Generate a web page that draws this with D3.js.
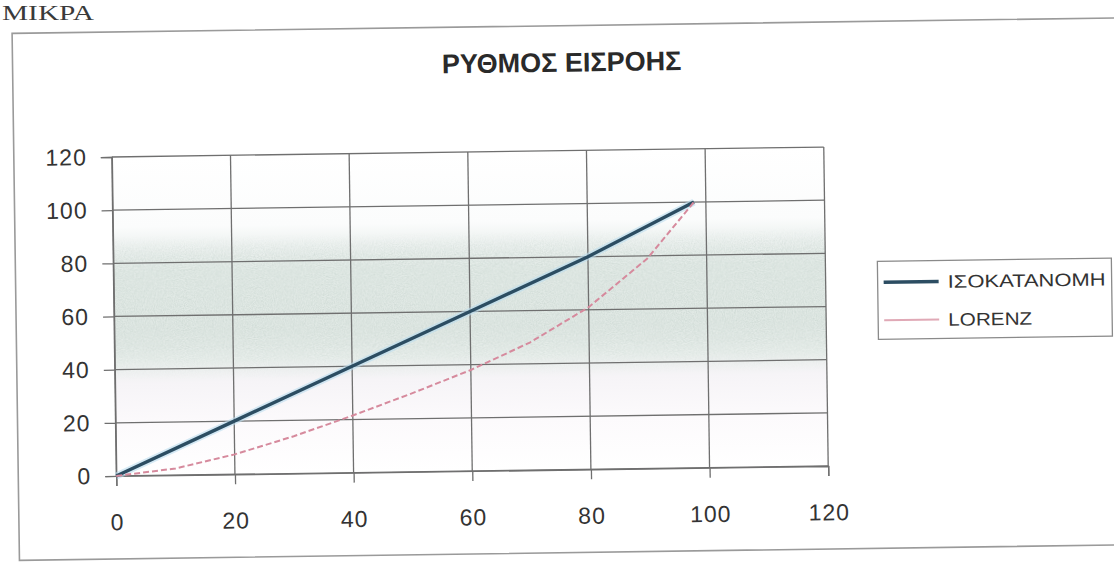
<!DOCTYPE html>
<html>
<head>
<meta charset="utf-8">
<script src="https://cdn.jsdelivr.net/npm/d3@7"></script>
<style>
  html, body { margin: 0; padding: 0; background: #fff; }
  svg { display: block; }
</style>
</head>
<body>
<svg id="chart" width="1114" height="562"></svg>
<script>
// Income flow: line of equal distribution vs. Lorenz curve
const pageHeading = "ΜΙΚΡΑ";
const chartTitle = "ΡΥΘΜΟΣ ΕΙΣΡΟΗΣ";
const seriesNames = ["ΙΣΟΚΑΤΑΝΟΜΗ", "LORENZ"];
const xTicks = [0, 20, 40, 60, 80, 100, 120];
const yTicks = [0, 20, 40, 60, 80, 100, 120];

// equal distribution
const equalX = [0, 20, 40, 60, 80, 98];
const equalY = [0, 20, 40, 60, 80, 100];

// Lorenz curve
const lorenzX = [0, 10, 20, 30, 40, 50, 60, 70, 80, 90, 98];
const lorenzY = [0, 2.5, 7.5, 14, 21.5, 29.5, 38, 48, 61, 79, 100];

const svg = d3.select("#chart");
const FONT = "'Liberation Sans', Arial, sans-serif";

svg.append("text")
  .attr("x", 2).attr("y", 20)
  .attr("font-family", "'Liberation Serif', 'Times New Roman', serif")
  .attr("font-size", 22)
  .attr("textLength", 92).attr("lengthAdjust", "spacingAndGlyphs")
  .attr("fill", "#3a3a3a")
  .text(pageHeading);

const defs = svg.append("defs");
const grad = defs.append("linearGradient")
  .attr("id", "plotBg").attr("x1", 0).attr("y1", 0).attr("x2", 0).attr("y2", 1);
[
  [0, "#ffffff"], [0.22, "#fbfcfc"], [0.29, "#ebf0ee"], [0.36, "#e2eae6"],
  [0.55, "#e0e8e4"], [0.64, "#e8eeeb"], [0.71, "#f6f4f7"], [0.84, "#fcfafc"], [1, "#ffffff"]
].forEach(([o, c]) => grad.append("stop").attr("offset", o).attr("stop-color", c));

// speckled texture for the shaded band
const speck = defs.append("filter").attr("id", "speck")
  .attr("x", 0).attr("y", 0).attr("width", "100%").attr("height", "100%");
speck.append("feTurbulence").attr("type", "fractalNoise")
  .attr("baseFrequency", 0.9).attr("numOctaves", 2).attr("seed", 4).attr("result", "n");
speck.append("feColorMatrix").attr("in", "n").attr("type", "matrix")
  .attr("values", "0 0 0 0 0.55  0 0 0 0 0.64  0 0 0 0 0.6  0 0 0 -2.2 1.45");
const maskGrad = defs.append("linearGradient")
  .attr("id", "bandMask").attr("x1", 0).attr("y1", 0).attr("x2", 0).attr("y2", 1);
[[0, 0], [0.25, 0], [0.32, 0.9], [0.6, 0.9], [0.7, 0], [1, 0]]
  .forEach(([o, a]) => maskGrad.append("stop").attr("offset", o)
    .attr("stop-color", "#fff").attr("stop-opacity", a));

// the whole chart sits slightly tilted on the page
const root = svg.append("g").attr("transform", "rotate(-0.8, 470, 310)");

root.append("rect")
  .attr("x", 16).attr("y", 27).attr("width", 1200).attr("height", 527)
  .attr("fill", "#fff").attr("stroke", "#9a9a9a").attr("stroke-width", 1.6);

root.append("text")
  .attr("x", 565).attr("y", 73)
  .attr("text-anchor", "middle")
  .attr("font-family", FONT).attr("font-weight", "bold")
  .attr("font-size", 27)
  .attr("fill", "#2a2a2a")
  .text(chartTitle);

const x = d3.scaleLinear().domain([0, 120]).range([114, 826]);
const y = d3.scaleLinear().domain([0, 120]).range([471, 152]);

const mask = defs.append("mask").attr("id", "bandM");
mask.append("rect")
  .attr("x", x(0)).attr("y", y(120)).attr("width", x(120) - x(0)).attr("height", y(0) - y(120))
  .attr("fill", "url(#bandMask)");

root.append("rect")
  .attr("x", x(0)).attr("y", y(120))
  .attr("width", x(120) - x(0)).attr("height", y(0) - y(120))
  .attr("fill", "url(#plotBg)");
root.append("rect")
  .attr("x", x(0)).attr("y", y(120))
  .attr("width", x(120) - x(0)).attr("height", y(0) - y(120))
  .attr("filter", "url(#speck)").attr("mask", "url(#bandM)")
  .attr("opacity", 0.6);

// grid
const grid = root.append("g").attr("stroke", "#6f6f6f").attr("stroke-width", 1.3);
grid.selectAll("line.h").data(yTicks).join("line")
  .attr("x1", x(0)).attr("x2", x(120))
  .attr("y1", d => y(d)).attr("y2", d => y(d));
grid.selectAll("line.v").data(xTicks).join("line")
  .attr("y1", y(0)).attr("y2", y(120))
  .attr("x1", d => x(d)).attr("x2", d => x(d));

// axes
const yAxis = root.append("g")
  .attr("transform", `translate(${x(0)},0)`)
  .call(d3.axisLeft(y).tickValues(yTicks).tickSize(11).tickPadding(14));
const xAxis = root.append("g")
  .attr("transform", `translate(0,${y(0)})`)
  .call(d3.axisBottom(x).tickValues(xTicks).tickSize(10).tickPadding(28));
[yAxis, xAxis].forEach(ax => {
  ax.select(".domain").attr("stroke", "#6f6f6f").attr("stroke-width", 1.3);
  ax.selectAll(".tick line").attr("stroke", "#6f6f6f").attr("stroke-width", 1.3);
  ax.selectAll(".tick text")
    .attr("font-family", FONT).attr("font-size", 23)
    .attr("letter-spacing", 1)
    .attr("fill", "#333");
});

// series
const line = d3.line().x(d => x(d[0])).y(d => y(d[1]));
const equalPts = equalX.map((v, i) => [v, equalY[i]]);
const lorenzPts = lorenzX.map((v, i) => [v, lorenzY[i]]);

root.append("path").datum(equalPts)
  .attr("d", line).attr("fill", "none")
  .attr("stroke", "#b9dcef").attr("stroke-width", 7).attr("opacity", 0.6);
root.append("path").datum(equalPts)
  .attr("d", line).attr("fill", "none")
  .attr("stroke", "#2c4d62").attr("stroke-width", 3.4);
root.append("path").datum(lorenzPts)
  .attr("d", line).attr("fill", "none")
  .attr("stroke", "#d68a9d").attr("stroke-width", 2)
  .attr("stroke-dasharray", "6,3");

// legend
const lg = root.append("g");
lg.append("rect")
  .attr("x", 878).attr("y", 267).attr("width", 234).attr("height", 78)
  .attr("fill", "#fff").attr("stroke", "#8a8a8a").attr("stroke-width", 1.3);
const legendRows = [
  { name: seriesNames[0], color: "#2c4d62", width: 3.4, y: 288 },
  { name: seriesNames[1], color: "#e0a9b6", width: 2, y: 326 }
];
legendRows.forEach(r => {
  lg.append("line")
    .attr("x1", 884).attr("x2", 939).attr("y1", r.y).attr("y2", r.y)
    .attr("stroke", r.color).attr("stroke-width", r.width);
  lg.append("text")
    .attr("x", 948).attr("y", r.y + 6.5)
    .attr("font-family", FONT).attr("font-size", 18)
    .attr("fill", "#333")
    .attr("textLength", r.name.length > 6 ? 158 : 84)
    .attr("lengthAdjust", "spacingAndGlyphs")
    .text(r.name);
});
</script>
</body>
</html>
